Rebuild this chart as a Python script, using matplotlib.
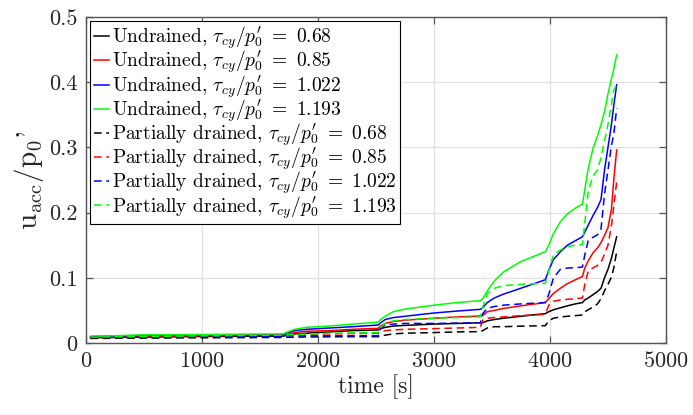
import matplotlib
matplotlib.use("Agg")
import matplotlib.pyplot as plt
from matplotlib.ticker import FuncFormatter

plt.rcParams["font.family"] = "serif"
plt.rcParams["font.serif"] = ["cmr10"]
plt.rcParams["mathtext.fontset"] = "cm"
plt.rcParams["axes.formatter.use_mathtext"] = True

# time grid shared by all series [s]
time = [40, 500, 1000, 1700, 1740, 1800, 1900, 2100, 2300, 2520,
        2540, 2580, 2650, 2750, 3000, 3200, 3400,
        3420, 3460, 3520, 3600, 3750, 3960,
        3990, 4030, 4090, 4150, 4220, 4280,
        4300, 4330, 4370, 4410, 4440, 4470, 4500, 4530, 4550, 4575]

# undrained
und_068 = [0.008, 0.009, 0.010, 0.0105, 0.012, 0.014, 0.015, 0.017, 0.019, 0.020,
           0.022, 0.024, 0.026, 0.027, 0.029, 0.030, 0.031,
           0.031, 0.034, 0.036, 0.038, 0.041, 0.045,
           0.048, 0.051, 0.054, 0.057, 0.060, 0.062,
           0.066, 0.069, 0.074, 0.079, 0.084, 0.100, 0.113, 0.130, 0.145, 0.163]
und_085 = [0.009, 0.010, 0.011, 0.012, 0.014, 0.016, 0.018, 0.019, 0.021, 0.0225,
           0.026, 0.030, 0.033, 0.035, 0.038, 0.040, 0.0414,
           0.042, 0.048, 0.050, 0.053, 0.057, 0.062,
           0.068, 0.076, 0.084, 0.091, 0.097, 0.102,
           0.115, 0.126, 0.138, 0.146, 0.154, 0.165, 0.177, 0.205, 0.250, 0.296]
und_1022 = [0.010, 0.0115, 0.012, 0.0125, 0.016, 0.019, 0.021, 0.023, 0.025, 0.0276,
            0.031, 0.036, 0.039, 0.041, 0.046, 0.049, 0.0516,
            0.054, 0.062, 0.069, 0.075, 0.084, 0.097,
            0.112, 0.128, 0.140, 0.150, 0.157, 0.163,
            0.170, 0.181, 0.195, 0.208, 0.220, 0.265, 0.300, 0.335, 0.364, 0.396]
und_1193 = [0.010, 0.0125, 0.013, 0.014, 0.017, 0.021, 0.024, 0.026, 0.029, 0.032,
            0.036, 0.041, 0.048, 0.052, 0.058, 0.062, 0.065,
            0.068, 0.080, 0.095, 0.109, 0.125, 0.140,
            0.150, 0.168, 0.186, 0.198, 0.207, 0.213,
            0.235, 0.268, 0.298, 0.318, 0.335, 0.355, 0.382, 0.405, 0.420, 0.442]

# partially drained
pd_068 = [0.007, 0.0075, 0.008, 0.0085, 0.0088, 0.009, 0.0093, 0.0095, 0.0097, 0.0097,
          0.011, 0.012, 0.014, 0.015, 0.016, 0.017, 0.0174,
          0.019, 0.023, 0.025, 0.025, 0.0258, 0.0266,
          0.034, 0.038, 0.040, 0.041, 0.042, 0.043,
          0.048, 0.051, 0.055, 0.060, 0.068, 0.080, 0.090, 0.101, 0.115, 0.140]
pd_085 = [0.009, 0.010, 0.011, 0.012, 0.0125, 0.013, 0.0135, 0.014, 0.0145, 0.015,
          0.017, 0.019, 0.020, 0.021, 0.022, 0.023, 0.024,
          0.035, 0.038, 0.039, 0.040, 0.042, 0.044,
          0.058, 0.064, 0.066, 0.067, 0.068, 0.069,
          0.090, 0.110, 0.115, 0.119, 0.124, 0.136, 0.150, 0.180, 0.210, 0.247]
pd_1022 = [0.009, 0.0095, 0.010, 0.0105, 0.011, 0.011, 0.011, 0.011, 0.011, 0.0112,
           0.022, 0.028, 0.029, 0.030, 0.030, 0.0305, 0.031,
           0.045, 0.053, 0.056, 0.058, 0.060, 0.062,
           0.075, 0.100, 0.113, 0.115, 0.1155, 0.1165,
           0.135, 0.157, 0.162, 0.166, 0.175, 0.228, 0.265, 0.303, 0.320, 0.360]
pd_1193 = [0.009, 0.010, 0.011, 0.012, 0.0125, 0.013, 0.0135, 0.015, 0.0155, 0.016,
           0.024, 0.030, 0.034, 0.036, 0.038, 0.039, 0.040,
           0.055, 0.076, 0.084, 0.088, 0.090, 0.0915,
           0.110, 0.135, 0.1426, 0.148, 0.150, 0.151,
           0.185, 0.232, 0.256, 0.265, 0.285, 0.310, 0.335, 0.366, 0.388, 0.396]

ratios = ["0.68", "0.85", "1.022", "1.193"]
colors = ["k", "r", "b", "#00ff00"]

fig = plt.figure(figsize=(6.93, 4.15), dpi=100)
ax = fig.add_axes([0.124, 0.1735, 0.837, 0.7855])

for vals, c, r in zip([und_068, und_085, und_1022, und_1193], colors, ratios):
    ax.plot(time, vals, color=c, lw=1.1,
            label=r"Undrained, $\tau_{cy}/p_0^{\prime}\ =\ %s$" % r)
for vals, c, r in zip([pd_068, pd_085, pd_1022, pd_1193], colors, ratios):
    ax.plot(time, vals, color=c, lw=1.1, linestyle=(0, (5, 3)),
            label=r"Partially drained, $\tau_{cy}/p_0^{\prime}\ =\ %s$" % r)

ax.set_xlim(0, 5000)
ax.set_ylim(0, 0.5)
ax.set_xticks([0, 1000, 2000, 3000, 4000, 5000])
ax.set_yticks([0, 0.1, 0.2, 0.3, 0.4, 0.5])
ax.yaxis.set_major_formatter(FuncFormatter(lambda v, p: "%g" % v))
ax.grid(True, color="#e0e0e0", lw=0.9)
ax.set_axisbelow(True)

for s in ax.spines.values():
    s.set_color("#555555")
    s.set_linewidth(1.0)
ax.tick_params(direction="in", length=5, width=0.9, color="#555555",
               labelsize=16, labelcolor="#262626", top=True, right=True, pad=6)

ax.set_xlabel("time [s]", fontsize=17, color="#262626", labelpad=2)
ax.set_ylabel(r"$\mathrm{u_{acc}/p_0}$'", fontsize=21, color="#262626", labelpad=2)

leg = ax.legend(loc="upper left", fontsize=14, frameon=True, fancybox=False,
                edgecolor="black", framealpha=1, borderaxespad=0.2,
                handlelength=0.8, handletextpad=0.12, labelspacing=-0.12,
                borderpad=0.2)
leg.get_frame().set_linewidth(0.8)

fig.savefig("out.png", dpi=100)
